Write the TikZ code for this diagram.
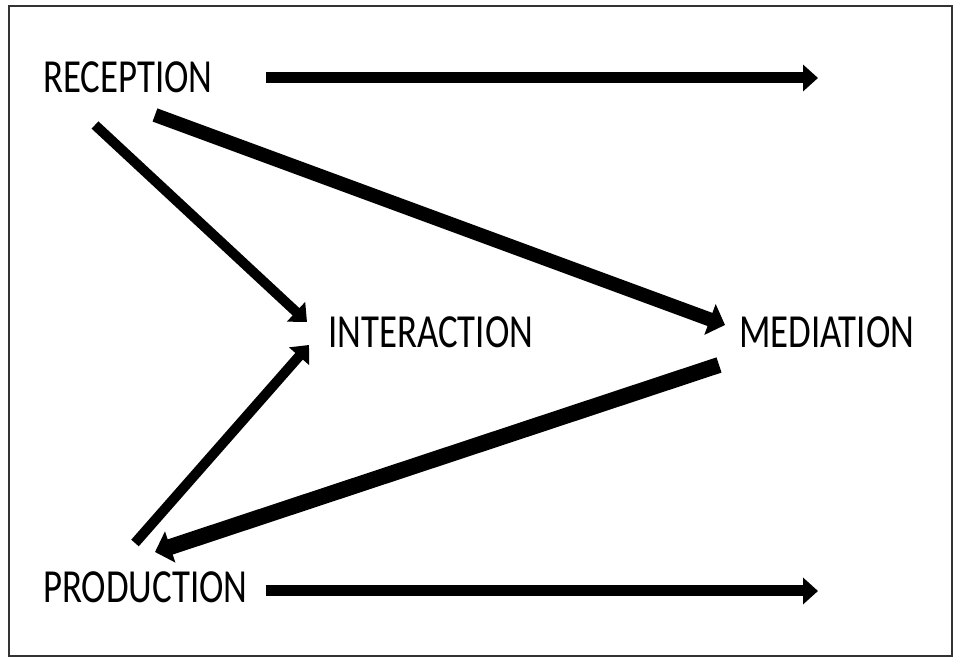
\documentclass[tikz,border=0pt]{standalone}
\usepackage{fontspec}
\usepackage{graphicx}
\setmainfont{Carlito}
\usetikzlibrary{arrows.meta,calc}
\begin{document}
\begin{tikzpicture}[x=1pt,y=1pt,
  lbl/.style={inner sep=0pt,anchor=base west,font=\fontsize{36.8}{40}\selectfont},
  arr/.style={line width=#1,-{Triangle[length=15pt,width=26pt]}},
  bigarr/.style={line width=#1,-{Triangle[length=16pt,width=32pt]}},
  frame/.style={draw=black!80,line width=2.5pt}]
\useasboundingbox (0,0) rectangle (961,660);
\draw[frame] (9,4) rectangle (952,654);
\node[lbl] (rec) at (43,567) {\scalebox{1}[1.29]{RECEPTION}};
\node[lbl] (int) at (328,312) {\scalebox{1}[1.29]{INTERACTION}};
\node[lbl] (med) at (739,312) {\scalebox{1}[1.29]{MEDIATION}};
\node[lbl] (prod) at (43,57) {\scalebox{1}[1.29]{PRODUCTION}};
\coordinate (topend) at (818,582);
\coordinate (botend) at (818,69);
% horizontal arrows
\draw[arr=11pt] ($(rec.base east)+(53,15)$) -- (topend);
\draw[arr=11pt] ($(prod.base east)+(18,12)$) -- (botend);
% to interaction
\draw[arr=10pt] ($(rec.base west)+(52,-32)$) -- ($(int.base west)+(-21,26)$);
\draw[arr=10pt] ($(prod.base west)+(92,60)$) -- ($(int.base west)+(-19,3)$);
% mediation
\draw[bigarr=14pt] ($(rec.base west)+(112,-22)$) -- ($(med.base west)+(-14,23)$);
\draw[bigarr=16pt] ($(med.base west)+(-20,-17)$) -- ($(prod.base west)+(112,51)$);
\end{tikzpicture}
\end{document}
